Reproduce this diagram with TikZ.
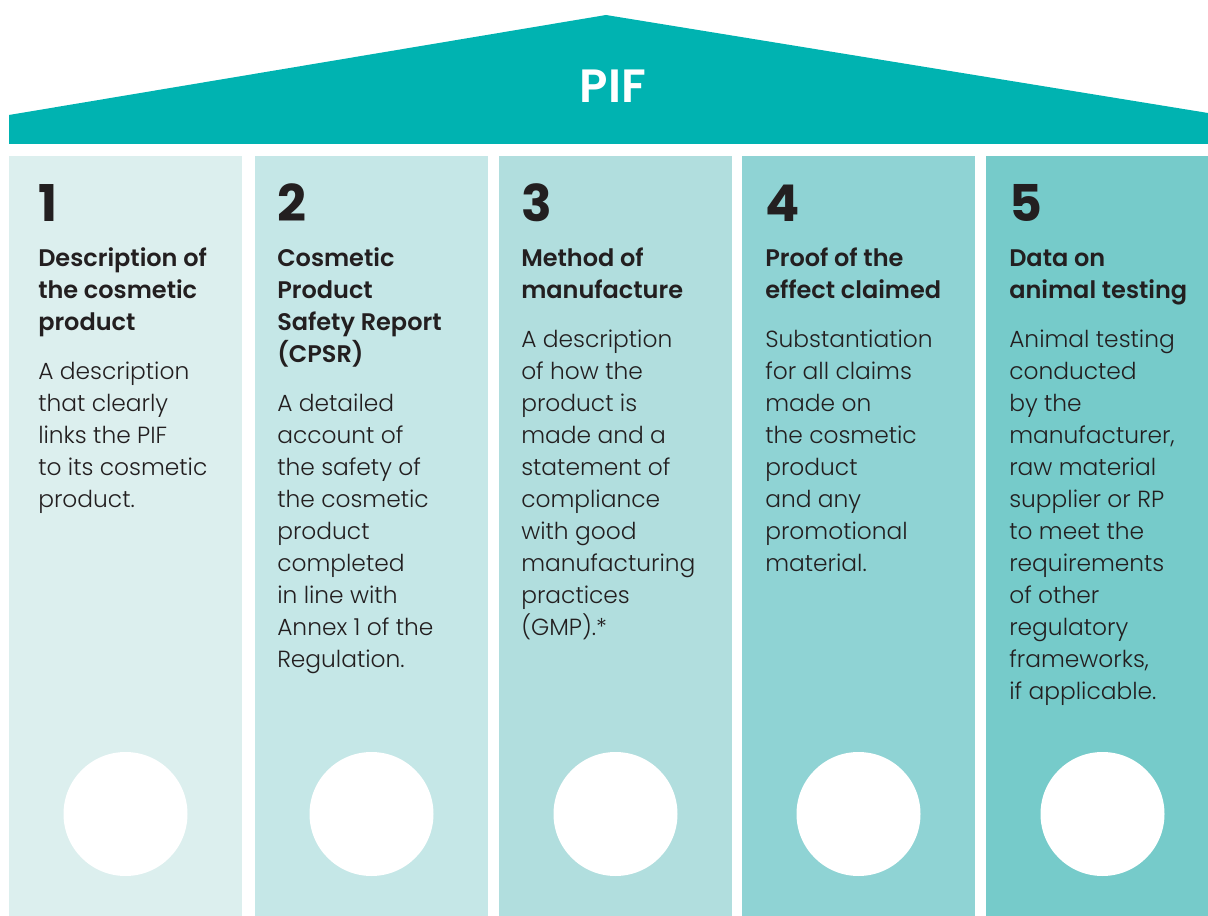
\documentclass[tikz,border=0pt]{standalone}
\usepackage{fontspec}
\newfontfamily\numfont{Poppins}
\newfontfamily\headfont{Poppins SemiBold}
\newfontfamily\bodyfont{Poppins Light}

\definecolor{roofteal}{HTML}{00B3B1}
\definecolor{colA}{HTML}{DCEFEE}
\definecolor{colB}{HTML}{C5E7E7}
\definecolor{colC}{HTML}{B1DEDE}
\definecolor{colD}{HTML}{8FD3D4}
\definecolor{colE}{HTML}{76CBCA}
\definecolor{inkdark}{HTML}{231F20}

% stacked lines whose baseline is the first line
\newcommand{\stacklines}[1]{\begin{tabular}[t]{@{}l@{}}#1\end{tabular}}

\tikzset{
  pillar/.style={fill=#1, draw=none},
  numlabel/.style={anchor=base west, inner sep=0pt, text=inkdark,
    font=\numfont\bfseries\fontsize{38}{38}\selectfont},
  headlabel/.style={anchor=base west, inner sep=0pt, text=inkdark,
    font=\headfont\fontsize{18}{24}\selectfont},
  bodylabel/.style={anchor=base west, inner sep=0pt, text=inkdark,
    font=\bodyfont\fontsize{17.5}{24}\selectfont},
}

\begin{document}
\begin{tikzpicture}[x=0.75pt, y=-0.75pt]

\useasboundingbox (0,0) rectangle (1208,916);

% Roof
\coordinate (apex) at (606,15);
\coordinate (eaveL) at (9,115);
\coordinate (eaveR) at (1208,113);
\fill[roofteal] (9,144) -- (eaveL) -- (apex) -- (eaveR) -- (1208,144) -- cycle;
\node[text=white, font=\headfont\fontsize{35}{35}\selectfont] (pif) at (613,86) {PIF};

% Pillars with their white discs
\foreach \x/\c [count=\i] in {9/colA, 255/colB, 499/colC, 742/colD, 986/colE} {
  \fill[pillar=\c] (\x,156) rectangle ++(233,760);
  \fill[white] (\x+116.5,814) circle[radius=62];
}

% Pillar 1
\node[numlabel] (n1) at (38,222) {1};
\node[headlabel] (h1) at (38,267) {\stacklines{Description of\\the cosmetic\\product}};
\node[bodylabel] (b1) at (38,380) {\stacklines{A description\\that clearly\\links the PIF\\to its cosmetic\\product.}};

% Pillar 2
\node[numlabel] (n2) at (277,222) {2};
\node[headlabel] (h2) at (277,267) {\stacklines{Cosmetic\\Product\\Safety Report\\(CPSR)}};
\node[bodylabel] (b2) at (277,412) {\stacklines{A detailed\\account of\\the safety of\\the cosmetic\\product\\completed\\in line with\\Annex 1 of the\\Regulation.}};

% Pillar 3
\node[numlabel] (n3) at (521,222) {3};
\node[headlabel] (h3) at (521,267) {\stacklines{Method of\\manufacture}};
\node[bodylabel] (b3) at (521,348) {\stacklines{A description\\of how the\\product is\\made and a\\statement of\\compliance\\with good\\manufacturing\\practices\\(GMP).*}};

% Pillar 4
\node[numlabel] (n4) at (765,222) {4};
\node[headlabel] (h4) at (765,267) {\stacklines{Proof of the\\effect claimed}};
\node[bodylabel] (b4) at (765,348) {\stacklines{Substantiation\\for all claims\\made on\\the cosmetic\\product\\and any\\promotional\\material.}};

% Pillar 5
\node[numlabel] (n5) at (1009,222) {5};
\node[headlabel] (h5) at (1009,267) {\stacklines{Data on\\animal testing}};
\node[bodylabel] (b5) at (1009,348) {\stacklines{Animal testing\\conducted\\by the\\manufacturer,\\raw material\\supplier or RP\\to meet the\\requirements\\of other\\regulatory\\frameworks,\\if applicable.}};

\end{tikzpicture}
\end{document}
